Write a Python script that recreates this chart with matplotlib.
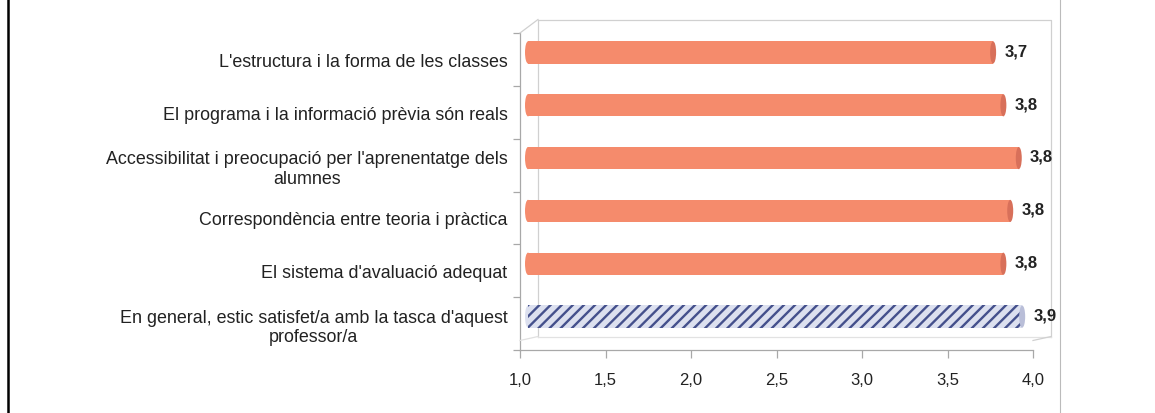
import numpy as np
import matplotlib
matplotlib.use("Agg")
import matplotlib.pyplot as plt
from matplotlib.transforms import ScaledTranslation
from matplotlib.patches import Ellipse
from matplotlib.lines import Line2D

plt.rcParams['font.family'] = ['Liberation Sans', 'DejaVu Sans']
plt.rcParams['hatch.linewidth'] = 1.7

categories = [
    "L'estructura i la forma de les classes",
    "El programa i la informació prèvia són reals",
    "Accessibilitat i preocupació per l'aprenentatge dels\nalumnes",
    "Correspondència entre teoria i pràctica",
    "El sistema d'avaluació adequat",
    "En general, estic satisfet/a amb la tasca d'aquest\nprofessor/a",
]
values = [3.72, 3.78, 3.87, 3.82, 3.78, 3.89]
value_labels = ["3,7", "3,8", "3,8", "3,8", "3,8", "3,9"]
xticks = [1.0, 1.5, 2.0, 2.5, 3.0, 3.5, 4.0]
xtick_labels = ["1,0", "1,5", "2,0", "2,5", "3,0", "3,5", "4,0"]

salmon = '#F58B6C'
salmon_dark = '#D8705A'
grey = '#A8A8A8'

fig = plt.figure(figsize=(11.55, 4.14), dpi=100)
ax = fig.add_axes([520 / 1155, 63 / 414, 513 / 1155, 317 / 414])

n = len(categories)
ypos = np.arange(n)[::-1]
ax.set_xlim(1.0, 4.0)
ax.set_ylim(-0.5, n - 0.5)

# 3D depth: back wall offset, bars at half depth
back = ax.transAxes + ScaledTranslation(18 / 100, 13.5 / 100, fig.dpi_scale_trans)
mid = ax.transData + ScaledTranslation(8 / 100, 7 / 100, fig.dpi_scale_trans)

wall_kw = dict(color='#D0D0D0', lw=0.9, clip_on=False)
ax.plot([0, 0, 1, 1], [0, 1, 1, 0], transform=back, **wall_kw)
ax.plot([0, 1], [0, 0], transform=back, color='#E2E2E2', lw=0.9, clip_on=False)
# connectors from front to back
fl = ax.transAxes
p0 = fl.transform((0, 1)); p1 = back.transform((0, 1))
fig.add_artist(Line2D([p0[0], p1[0]], [p0[1], p1[1]], transform=None, color='#D0D0D0', lw=0.9))
p0 = fl.transform((1, 0.03)); p1 = back.transform((1, 0))
fig.add_artist(Line2D([p0[0], p1[0]], [p0[1], p1[1]], transform=None, color='#D0D0D0', lw=0.9))
p0 = fl.transform((0, 0.03)); p1 = back.transform((0, 0))
fig.add_artist(Line2D([p0[0], p1[0]], [p0[1], p1[1]], transform=None, color='#E0E0E0', lw=0.9))

bar_h = 0.42
cap_w = 0.035
for i, (y, v) in enumerate(zip(ypos, values)):
    last = i == n - 1
    if last:
        ax.barh(y, v - 1.0, left=1.0, height=bar_h, color='#DCE0EF', edgecolor='#44508C',
                hatch='///', linewidth=0, transform=mid, zorder=3)
        cap = Ellipse((v, y), cap_w, bar_h, facecolor='#B9BED8', edgecolor='none',
                      transform=mid, zorder=4)
    else:
        ax.barh(y, v - 1.0, left=1.0, height=bar_h, color=salmon, linewidth=0,
                transform=mid, zorder=3)
        cap = Ellipse((v, y), cap_w, bar_h, facecolor=salmon_dark, edgecolor='none',
                      transform=mid, zorder=4)
    ax.add_patch(cap)
    ax.add_patch(Ellipse((1.0, y), cap_w, bar_h, facecolor=salmon if not last else '#DCE0EF',
                         edgecolor='none', transform=mid, zorder=2))
    ax.text(v + 0.065, y + 0.03, value_labels[i], transform=mid, ha='left', va='center',
            fontsize=12, fontweight='bold', color='#222222')

ax.set_yticks(ypos)
ax.set_yticklabels(categories, fontsize=12.9, color='#222222')
for lbl in ax.get_yticklabels():
    lbl.set_multialignment('center')
ax.set_yticks(np.arange(-0.5, n, 1.0), minor=True)
ax.tick_params(axis='y', which='major', length=0, pad=9)
ax.tick_params(axis='y', which='minor', length=5, color=grey, width=0.9)

ax.set_xticks(xticks)
ax.set_xticklabels(xtick_labels, fontsize=12, color='#222222')
ax.tick_params(axis='x', length=6, color=grey, width=0.9, pad=10)

for s in ['top', 'right']:
    ax.spines[s].set_visible(False)
for s in ['left', 'bottom']:
    ax.spines[s].set_color(grey)
    ax.spines[s].set_linewidth(0.9)
ax.patch.set_alpha(0)

# page border on the left and faint line on the right
fig.add_artist(Line2D([7.5 / 1155, 7.5 / 1155], [0, 1], transform=fig.transFigure, color='black', lw=1.8))
fig.add_artist(Line2D([1060 / 1155, 1060 / 1155], [0, 1], transform=fig.transFigure, color='#BBBBBB', lw=0.8))

fig.savefig('out.png', dpi=100)
